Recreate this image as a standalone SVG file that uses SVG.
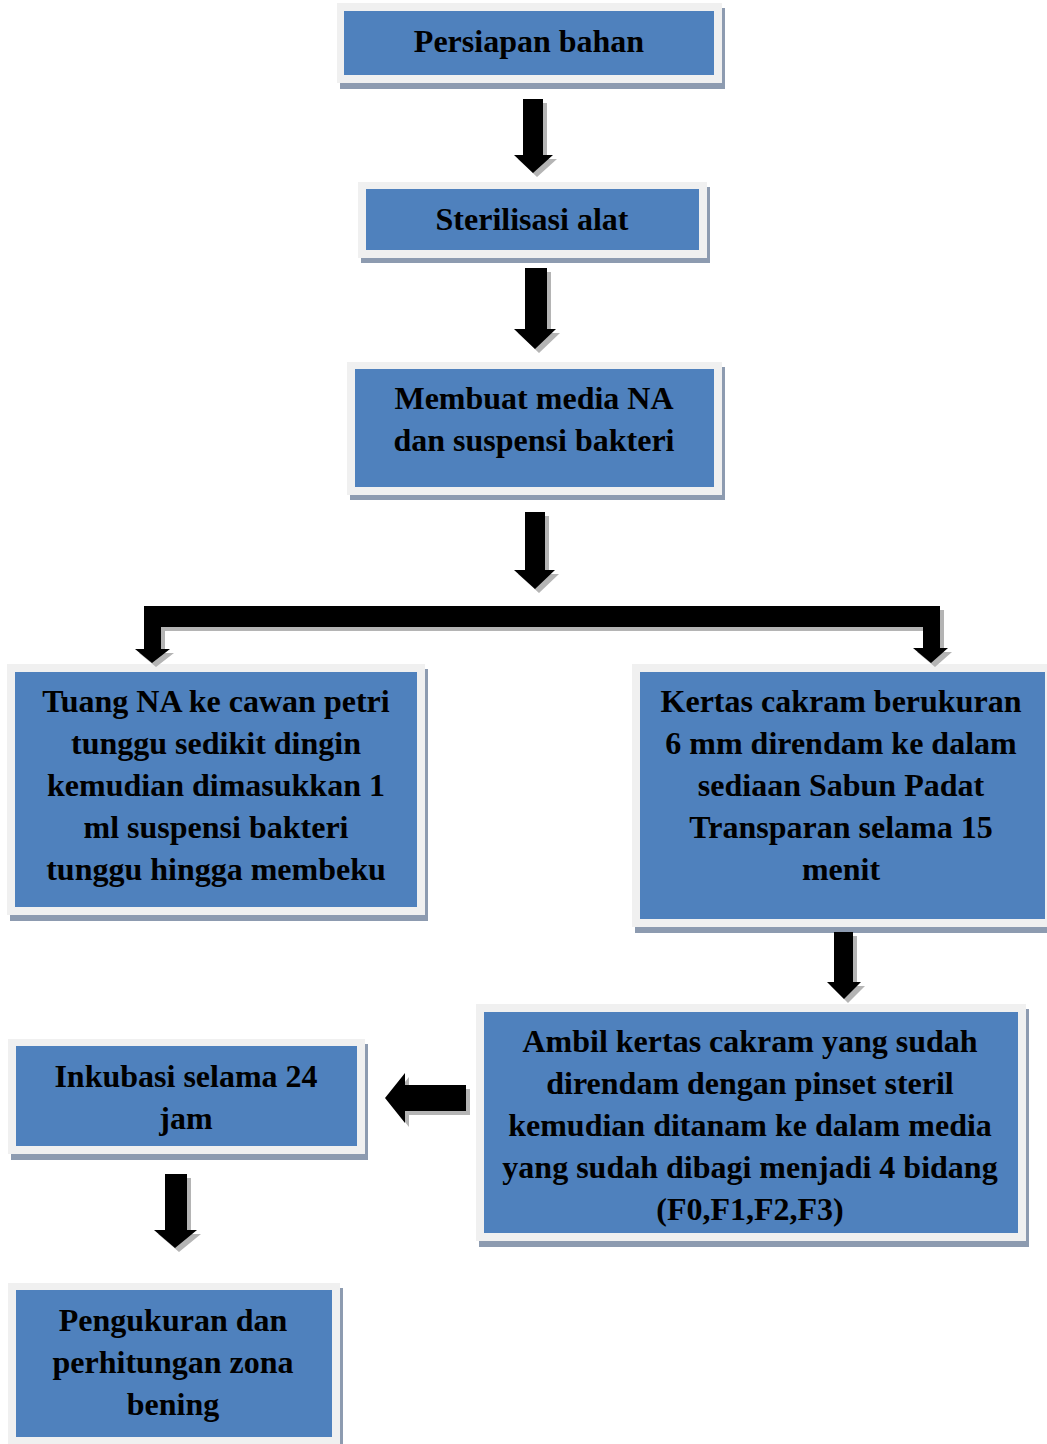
<svg xmlns="http://www.w3.org/2000/svg" width="1047" height="1444" viewBox="0 0 1047 1444">
<style>
.outer{fill:#f0f0f0}
.shadow{fill:#8d9bb0}
.inner{fill:#4f81bd}
.t{font-family:"Liberation Serif","Times New Roman",serif;font-weight:bold;font-size:32px;fill:#000;text-anchor:middle}
.ash{fill:#b4b4b4}
.arr{fill:#000}
</style>
<rect width="1047" height="1444" fill="#fff"/>

<g id="n1">
<rect class="shadow" x="340" y="8" width="385" height="81"/>
<rect class="outer" x="337" y="3" width="385" height="80"/>
<rect class="inner" x="344" y="11" width="370" height="64"/>
<text class="t" x="529" y="52">Persiapan bahan</text>
</g>

<g id="n2">
<rect class="shadow" x="361" y="187" width="349" height="76"/>
<rect class="outer" x="358" y="182" width="349" height="76"/>
<rect class="inner" x="366" y="189" width="333" height="61"/>
<text class="t" x="532" y="230">Sterilisasi alat</text>
</g>

<g id="n3">
<rect class="shadow" x="350" y="367" width="375" height="133"/>
<rect class="outer" x="347" y="362" width="375" height="133"/>
<rect class="inner" x="355" y="369" width="359" height="118"/>
<text class="t" x="534" y="409">Membuat media NA</text>
<text class="t" x="534" y="451">dan suspensi bakteri</text>
</g>

<g id="n4">
<rect class="shadow" x="10" y="669" width="418" height="252"/>
<rect class="outer" x="7" y="664" width="418" height="251"/>
<rect class="inner" x="15" y="672" width="402" height="235"/>
<text class="t" x="216" y="712">Tuang NA ke cawan petri</text>
<text class="t" x="216" y="754">tunggu sedikit dingin</text>
<text class="t" x="216" y="796">kemudian dimasukkan 1</text>
<text class="t" x="216" y="838">ml suspensi bakteri</text>
<text class="t" x="216" y="880">tunggu hingga membeku</text>
</g>

<g id="n5">
<rect class="shadow" x="635" y="669" width="421" height="264"/>
<rect class="outer" x="632" y="664" width="421" height="263"/>
<rect class="inner" x="640" y="672" width="405" height="247"/>
<text class="t" x="841" y="712">Kertas cakram berukuran</text>
<text class="t" x="841" y="754">6 mm direndam ke dalam</text>
<text class="t" x="841" y="796">sediaan Sabun Padat</text>
<text class="t" x="841" y="838">Transparan selama 15</text>
<text class="t" x="841" y="880">menit</text>
</g>

<g id="n6">
<rect class="shadow" x="479" y="1009" width="550" height="238"/>
<rect class="outer" x="476" y="1004" width="550" height="237"/>
<rect class="inner" x="484" y="1012" width="534" height="221"/>
<text class="t" x="750" y="1052">Ambil kertas cakram yang sudah</text>
<text class="t" x="750" y="1094">direndam dengan pinset steril</text>
<text class="t" x="750" y="1136">kemudian ditanam ke dalam media</text>
<text class="t" x="750" y="1178">yang sudah dibagi menjadi 4 bidang</text>
<text class="t" x="750" y="1220">(F0,F1,F2,F3)</text>
</g>

<g id="n7">
<rect class="shadow" x="11" y="1044" width="357" height="116"/>
<rect class="outer" x="8" y="1039" width="357" height="115"/>
<rect class="inner" x="16" y="1046" width="341" height="100"/>
<text class="t" x="186" y="1087">Inkubasi selama 24</text>
<text class="t" x="186" y="1129">jam</text>
</g>

<g id="n8">
<rect class="shadow" x="11" y="1288" width="332" height="160"/>
<rect class="outer" x="8" y="1283" width="332" height="165"/>
<rect class="inner" x="16" y="1290" width="316" height="147"/>
<text class="t" x="173" y="1331">Pengukuran dan</text>
<text class="t" x="173" y="1373">perhitungan zona</text>
<text class="t" x="173" y="1415">bening</text>
</g>

<defs>
<path id="a1" d="M523,99 H543 V155 H553 L533,173 L514,155 H523 Z"/>
<path id="a2" d="M525,268 H547 V329 H556 L535,349 L514,329 H525 Z"/>
<path id="a3" d="M525,512 H545 V570 H555 L535,589 L514,570 H525 Z"/>
<path id="a4" d="M144,606 H940 V648 H948 L931,663 L913,648 H923 V627 H161 V649 H170 L152,663 L135,649 H144 Z"/>
<path id="a5" d="M834,932 H853 V982 H861 L844,999 L827,982 H834 Z"/>
<path id="a6" d="M466,1085 V1111 H405 V1123 L385,1098 L405,1073 V1085 Z"/>
<path id="a7" d="M165,1174 H187 V1230 H197 L175,1248 L154,1230 H165 Z"/>
</defs>

<g id="connectors">
<g class="ash" transform="translate(4,4)">
<use href="#a1"/><use href="#a2"/><use href="#a3"/><use href="#a4"/><use href="#a5"/><use href="#a6"/><use href="#a7"/>
</g>
<g class="arr">
<use href="#a1"/><use href="#a2"/><use href="#a3"/><use href="#a4"/><use href="#a5"/><use href="#a6"/><use href="#a7"/>
</g>
</g>
</svg>
